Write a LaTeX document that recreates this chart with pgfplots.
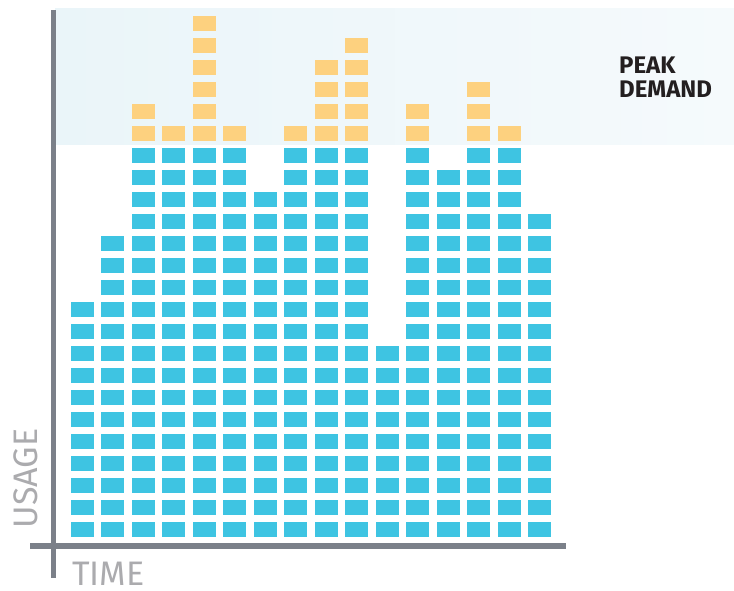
\documentclass[border=0pt]{standalone}
\usepackage{pgfplots}
\usepackage{pgfplotstable}
\pgfplotsset{compat=1.18}
\usepackage{fontspec}
\setmainfont{Fira Sans}

\definecolor{blockblue}{HTML}{3EC4E2}
\definecolor{blockorange}{HTML}{FDD17F}
\definecolor{axisgray}{HTML}{7B8089}
\definecolor{labelgray}{HTML}{ABABAE}
\definecolor{bandleft}{HTML}{EAF5F9}
\definecolor{bandright}{HTML}{F5FAFC}
\definecolor{darktext}{HTML}{231F20}

% one block = one unit of usage
\pgfdeclareplotmark{block}{%
  \pgfpathrectangle{\pgfpoint{-11.5pt}{-7.5pt}}{\pgfpoint{23pt}{15pt}}%
  \pgfusepathqfill}

% time slot, number of blocks
\pgfplotstableread{
t h
1 11
2 14
3 20
4 19
5 24
6 19
7 16
8 19
9 22
10 23
11 9
12 20
13 17
14 21
15 19
16 15
}\usagedata

\begin{document}
\begin{tikzpicture}
\path[use as bounding box] (-52pt,-38.5pt) rectangle (682pt,551.5pt);
\begin{axis}[
    anchor=origin,
    at={(0pt,0pt)},
    x=30.47pt, y=22pt,
    xmin=-1.7, xmax=22.38,
    ymin=-1.75, ymax=25.07,
    axis lines=none,
    clip=false,
    ]
  % peak demand band
  \fill[left color=bandleft, right color=bandright]
    (axis cs:0.1,18.52) rectangle (axis cs:22.38,24.7);
  \pgfplotsinvokeforeach{1,...,18}{
    \addplot[only marks, mark=block, color=blockblue]
      table[x=t, y expr={\thisrow{h}>=#1 ? #1 : nan}] {\usagedata};
  }
  \pgfplotsinvokeforeach{19,...,24}{
    \addplot[only marks, mark=block, color=blockorange]
      table[x=t, y expr={\thisrow{h}>=#1 ? #1 : nan}] {\usagedata};
  }
  % axis lines
  \draw[axisgray, line width=5.5pt] (axis cs:-0.72,0.25) -- (axis cs:16.87,0.25);
  \draw[axisgray, line width=5pt] (axis cs:0.05,-1.2) -- (axis cs:0.05,24.6);
\end{axis}
\node[labelgray, rotate=90, inner sep=0pt, font=\fontsize{34}{34}\selectfont]
  at (-26.5pt,73pt) {USAGE};
\node[labelgray, inner sep=0pt, font=\fontsize{34}{34}\selectfont]
  at (56.5pt,-22.5pt) {TIME};
\node[darktext, anchor=west, inner sep=0pt, font=\bfseries\fontsize{24}{24}\selectfont]
  at (567pt,486.5pt) {PEAK};
\node[darktext, anchor=west, inner sep=0pt, font=\bfseries\fontsize{24}{24}\selectfont]
  at (567pt,462pt) {DEMAND};
\end{tikzpicture}
\end{document}
